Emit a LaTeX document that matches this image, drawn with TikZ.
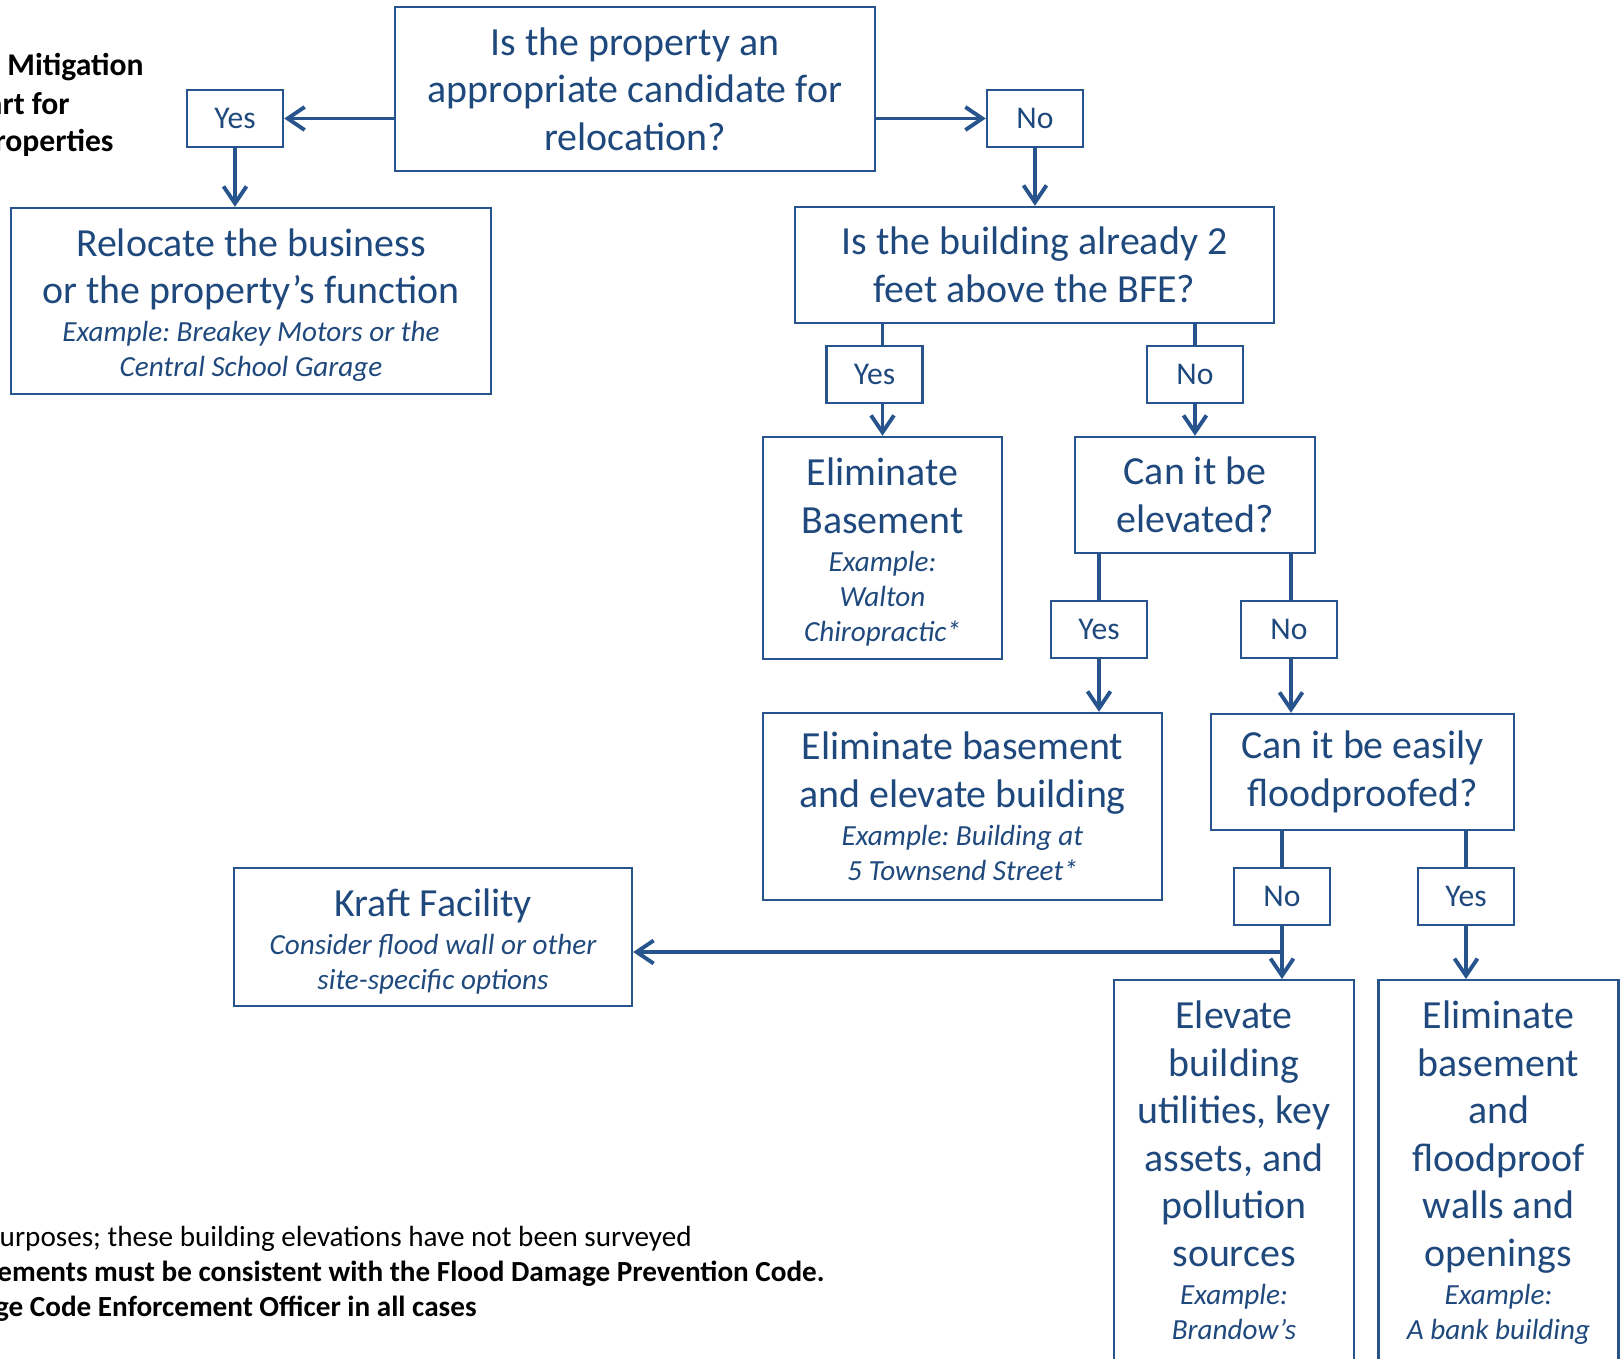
\documentclass[tikz,border=0pt]{standalone}
\usepackage{fontspec}
\setmainfont{Carlito}
\usetikzlibrary{arrows.meta}
\definecolor{chartblue}{HTML}{1F497D}
\definecolor{lineblue}{HTML}{27548C}
\newcommand{\ex}[1]{{\fontsize{16.6}{20}\selectfont\itshape #1}}
\newcommand{\lift}{\rule{0pt}{20.5pt}}
\frenchspacing

\begin{document}
\begin{tikzpicture}[x=0.02cm, y=-0.02cm,
    box/.style={draw=lineblue, line width=1.4pt, text=chartblue, align=center,
      inner sep=0pt, font=\fontsize{22.7}{27}\selectfont},
    cutbox/.style={box, anchor=north, minimum width=4.8cm, inner ysep=0.42cm, text depth=4cm},
    tag/.style={draw=lineblue, line width=1.4pt, text=chartblue, inner sep=0pt,
      minimum width=1.92cm, minimum height=1.14cm, font=\fontsize{18}{22}\selectfont},
    link/.style={draw=lineblue, line width=2.2pt},
    arr/.style={link, -{Straight Barb[length=0.34cm, width=0.46cm]}},
    note/.style={anchor=east, inner sep=0pt, font=\fontsize{16.6}{20}\selectfont}]
    \useasboundingbox (0,0) rectangle (1623,1359);
    \clip (0,0) rectangle (1623,1359);
    % Title and footnotes (cut by the page edge)
    \node[note, font=\fontsize{18}{22}\selectfont\bfseries] (title1) at (144,67)  {Mitigation};
    \node[note, font=\fontsize{18}{22}\selectfont\bfseries] (title2) at (70,104)  {Chart for};
    \node[note, font=\fontsize{18}{22}\selectfont\bfseries] (title3) at (114,143) {Properties};
    \node[note] (foot1) at (692,1239) {purposes; these building elevations have not been surveyed};
    \node[note, font=\fontsize{16.6}{20}\selectfont\bfseries] (foot2) at (825,1274) {requirements must be consistent with the Flood Damage Prevention Code.};
    \node[note, font=\fontsize{16.6}{20}\selectfont\bfseries] (foot3) at (477,1309) {Village Code Enforcement Officer in all cases};
    % Questions
    \node[box, minimum width=9.6cm, minimum height=3.28cm]  (q1) at (635,89)      {Is the property an\\appropriate candidate for\\relocation?};
    \node[box, minimum width=9.58cm, minimum height=2.32cm] (q2) at (1034.5,265)  {Is the building already 2\\feet above the BFE?};
    \node[box, minimum width=4.8cm, minimum height=2.32cm]  (q3) at (1195,495)    {Can it be\\elevated?};
    \node[box, minimum width=6.06cm, minimum height=2.32cm] (q4) at (1362.5,772)  {Can it be easily\\floodproofed?};
    % Outcomes
    \node[box, minimum width=9.6cm, minimum height=3.72cm] (reloc) at (251,301)
      {\lift Relocate the business\\or the property's function\\[-5.3pt]\ex{Example: Breakey Motors or the}\\[-7pt]\ex{Central School Garage}};
    \node[box, minimum width=4.78cm, minimum height=4.44cm] (elimbase) at (882.5,548)
      {\lift Eliminate\\Basement\\[-5.3pt]\ex{Example:}\\[-7pt]\ex{Walton}\\[-7pt]\ex{Chiropractic*}};
    \node[box, minimum width=7.98cm, minimum height=3.74cm] (elimelev) at (962.5,806.5)
      {Eliminate basement\\and elevate building\\[-5.3pt]\ex{Example: Building at}\\[-7pt]\ex{5 Townsend Street*}};
    \node[box, minimum width=7.96cm, minimum height=2.76cm] (kraft) at (433,937)
      {\lift Kraft Facility\\[-5.3pt]\ex{Consider flood wall or other}\\[-7pt]\ex{site-specific options}};
    \node[cutbox] (elevutil) at (1234,979)
      {Elevate\\building\\utilities, key\\assets, and\\pollution\\sources\\[-5.3pt]\ex{Example:}\\[-7pt]\ex{Brandow's}};
    \node[cutbox] (elimflood) at (1498.5,979)
      {Eliminate\\basement\\and\\floodproof\\walls and\\openings\\[-5.3pt]\ex{Example:}\\[-7pt]\ex{A bank building}};
    % Yes / No tags
    \node[tag] (yes1) at (235,118.5)  {Yes};
    \node[tag] (no1)  at (1035,118.5) {No};
    \node[tag] (yes2) at (874.5,374.5) {Yes};
    \node[tag] (no2)  at (1195,374.5) {No};
    \node[tag] (yes3) at (1099,629.5) {Yes};
    \node[tag] (no3)  at (1289,629.5) {No};
    \node[tag] (no4)  at (1282,896.5) {No};
    \node[tag] (yes4) at (1466,896.5) {Yes};
    \coordinate (split) at (1282,952);
    % Connectors
    \draw[arr] (q1.west |- yes1.east) -- (yes1.east);
    \draw[arr] (yes1.south) -- (yes1.south |- reloc.north);
    \draw[arr] (q1.east |- no1.west) -- (no1.west);
    \draw[arr] (no1.south) -- (no1.south |- q2.north);
    \draw[link] (q2.south -| elimbase) -- (yes2.north -| elimbase);
    \draw[arr] (yes2.south -| elimbase) -- (elimbase.north);
    \draw[link] (q2.south -| q3) -- (no2.north -| q3);
    \draw[arr] (no2.south -| q3) -- (q3.north);
    \draw[link] (q3.south -| yes3) -- (yes3.north);
    \draw[arr] (yes3.south) -- (yes3.south |- elimelev.north);
    \draw[link] (q3.south -| 1291,0) -- (no3.north -| 1291,0);
    \draw[arr] (no3.south -| 1291,0) -- (q4.north -| 1291,0);
    \draw[link] (q4.south -| no4) -- (no4.north);
    \draw[arr] (no4.south) -- (no4.south |- elevutil.north);
    \draw[arr] (split) -- (split -| kraft.east);
    \draw[link] (q4.south -| yes4) -- (yes4.north);
    \draw[arr] (yes4.south) -- (yes4.south |- elimflood.north);
\end{tikzpicture}
\end{document}
